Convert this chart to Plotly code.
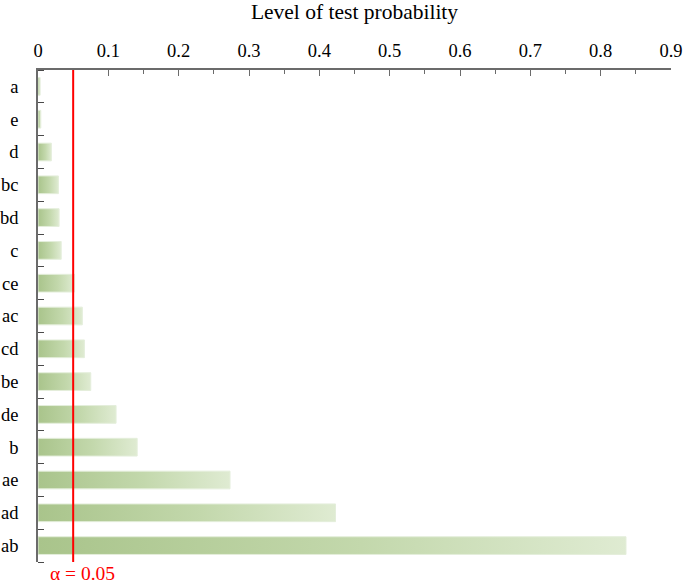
import plotly.graph_objects as go

categories = ["a", "e", "d", "bc", "bd", "c", "ce", "ac", "cd", "be", "de", "b", "ae", "ad", "ab"]
probabilities = [0.003, 0.004, 0.019, 0.029, 0.030, 0.033, 0.052, 0.063, 0.066, 0.075, 0.111, 0.141, 0.273, 0.423, 0.836]
x_ticks = [0, 0.1, 0.2, 0.3, 0.4, 0.5, 0.6, 0.7, 0.8, 0.9]
x_tick_labels = ["0", "0.1", "0.2", "0.3", "0.4", "0.5", "0.6", "0.7", "0.8", "0.9"]
alpha = 0.05

FONT = "Liberation Serif, Times New Roman, serif"
half = 0.27  # half bar thickness in category units

fig = go.Figure()
for i, (cat, v) in enumerate(zip(categories, probabilities)):
    fig.add_trace(go.Scatter(
        x=[0, v, v, 0, 0],
        y=[i - half, i - half, i + half, i + half, i - half],
        mode="lines",
        fill="toself",
        fillgradient=dict(type="horizontal",
                          colorscale=[[0, "#a9c48b"], [0.55, "#c3d8ac"], [1, "#dfebd2"]]),
        line=dict(color="#e4eedb", width=1),
        hoverinfo="text",
        text=f"{cat}: {v}",
        showlegend=False,
    ))

fig.add_shape(type="line", xref="x", yref="paper", x0=alpha, x1=alpha, y0=0, y1=1,
              line=dict(color="#ff0000", width=2))
fig.add_annotation(x=alpha, xref="x", y=0, yref="paper", yanchor="top", xanchor="center",
                   xshift=9, yshift=1, text=f"α = {alpha}", showarrow=False,
                   font=dict(family=FONT, size=19.5, color="#ff0000"))

fig.update_layout(
    width=685, height=587,
    margin=dict(l=38, r=14, t=70, b=25, autoexpand=False),
    paper_bgcolor="white", plot_bgcolor="white",
    font=dict(family=FONT, size=18, color="#000000"),
    title=dict(text="Level of test probability", x=0.5, xanchor="center", xref="paper",
               y=0.98, yanchor="middle", font=dict(family=FONT, size=21.5, color="#000000")),
)
fig.update_xaxes(
    side="top", range=[0, 0.9], tickvals=x_ticks, ticktext=x_tick_labels, automargin=False,
    showgrid=False, zeroline=False, showline=True, linecolor="#6b6b6b", linewidth=1.5,
    ticks="inside", ticklen=6, tickwidth=1.2, tickcolor="#6b6b6b",
    minor=dict(dtick=0.05, tick0=0, ticks="inside", ticklen=4, tickwidth=1, tickcolor="#6b6b6b"),
    tickfont=dict(family=FONT, size=18.5), ticklabelstandoff=4,
)
fig.update_yaxes(
    range=[len(categories) - 0.5, -0.5], tickvals=list(range(len(categories))), ticktext=categories,
    automargin=False,
    showgrid=False, zeroline=False, showline=True, linecolor="#6b6b6b", linewidth=1.5,
    ticks="", tickfont=dict(family=FONT, size=18.5), ticklabelstandoff=14,
    minor=dict(dtick=1, tick0=0.5, ticks="inside", ticklen=6, tickwidth=1.2, tickcolor="#4a4a4a"),
)

fig.write_html("out.html", config={"displayModeBar": False},
               post_script="document.body.style.margin='0';")
